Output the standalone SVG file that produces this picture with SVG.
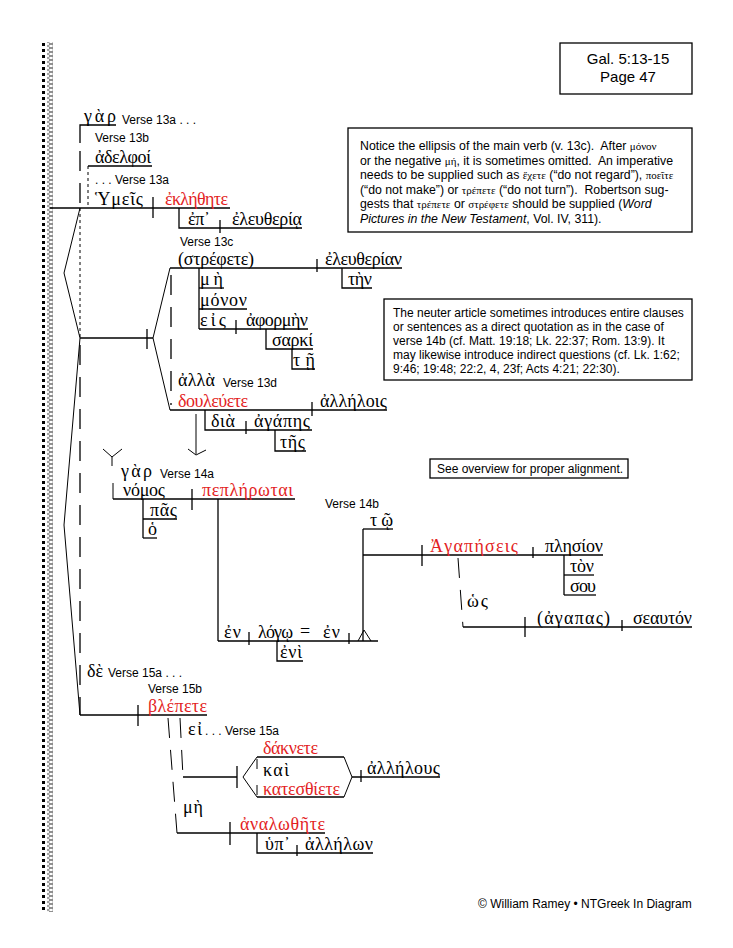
<svg xmlns="http://www.w3.org/2000/svg" width="733" height="948" viewBox="0 0 733 948">
<style>
.g{font-family:"Liberation Serif","DejaVu Serif",serif;font-size:18px;fill:#000}
.r{fill:#e31e24}
.e{font-family:"Liberation Sans",Arial,sans-serif;font-size:12px;fill:#000}
.n{font-family:"Liberation Sans",Arial,sans-serif;font-size:12.3px;fill:#000}
.n2{font-family:"Liberation Sans",Arial,sans-serif;font-size:12px;fill:#000}
.ng{font-family:"Liberation Serif","DejaVu Serif",serif;font-size:11px}
.ln{stroke:#000;stroke-width:1.3;fill:none}
.thin{stroke:#000;stroke-width:1;fill:none}
.ld{stroke-dasharray:20 12}
.sd{stroke-dasharray:3 3}
.box{fill:#fff;stroke:#000;stroke-width:1.3}
</style>
<defs>
<pattern id="chain" x="0" y="0" width="6" height="4" patternUnits="userSpaceOnUse">
<ellipse cx="3" cy="2" rx="2.4" ry="1.8" fill="none" stroke="#555" stroke-width="0.8"/>
</pattern>
</defs>
<rect width="733" height="948" fill="#fff"/>
<g id="border">
<line x1="43.5" y1="43" x2="43.5" y2="911" stroke="#000" stroke-width="3" stroke-dasharray="3 3"/>
<rect x="47" y="42" width="6" height="870" fill="url(#chain)"/>
</g>
<g id="title">
<rect class="box" x="560" y="43" width="132" height="51"/>
<text class="e" style="font-size:15px" x="628" y="63.5" text-anchor="middle">Gal. 5:13-15</text>
<text class="e" style="font-size:15px" x="628" y="82" text-anchor="middle">Page 47</text>
</g>
<g id="note1">
<rect class="box" x="348" y="128" width="344" height="104"/>
<text class="n" x="360" y="150" xml:space="preserve">Notice the ellipsis of the main verb (v. 13c).  After <tspan class="ng">μόνον</tspan></text>
<text class="n" x="360" y="164.5" xml:space="preserve">or the negative <tspan class="ng">μή</tspan>, it is sometimes omitted.  An imperative</text>
<text class="n" x="360" y="179" xml:space="preserve">needs to be supplied such as <tspan class="ng">ἔχετε</tspan> (“do not regard”), <tspan class="ng">ποεῖτε</tspan></text>
<text class="n" x="360" y="193.5" xml:space="preserve">(“do not make”) or <tspan class="ng">τρέπετε</tspan> (“do not turn”).  Robertson sug-</text>
<text class="n" x="360" y="208" xml:space="preserve">gests that <tspan class="ng">τρέπετε</tspan> or <tspan class="ng">στρέφετε</tspan> should be supplied (<tspan font-style="italic">Word</tspan></text>
<text class="n" x="360" y="222.5" xml:space="preserve"><tspan font-style="italic">Pictures in the New Testament</tspan>, Vol. IV, 311).</text>
</g>
<g id="note2">
<rect class="box" x="384" y="299" width="308" height="81"/>
<text class="n2" x="393" y="317">The neuter article sometimes introduces entire clauses</text>
<text class="n2" x="393" y="331">or sentences as a direct quotation as in the case of</text>
<text class="n2" x="393" y="345">verse 14b (cf. Matt. 19:18; Lk. 22:37; Rom. 13:9). It</text>
<text class="n2" x="393" y="359">may likewise introduce indirect questions (cf. Lk. 1:62;</text>
<text class="n2" x="393" y="373">9:46; 19:48; 22:2, 4, 23f; Acts 4:21; 22:30).</text>
</g>
<g id="note3">
<rect class="box" x="430" y="459" width="198" height="19"/>
<text class="n2" x="437" y="473">See overview for proper alignment.</text>
</g>
<g id="connectors">
<polyline class="ln" points="80,143 80,125 116,125"/>
<line class="ln ld" x1="80" y1="143" x2="80" y2="208" stroke-dashoffset="-8"/>
<line class="ln" x1="88" y1="166" x2="152" y2="166"/>
<line class="thin sd" x1="88" y1="166" x2="88" y2="208"/>
<line class="ln" x1="50" y1="208" x2="230" y2="208"/>
<line class="ln" x1="153" y1="197" x2="153" y2="218"/>
<polyline class="ln" points="179,208 179,228 302,228"/>
<line class="ln" x1="220" y1="220" x2="220" y2="233"/>
<polyline class="thin" points="80,208 64,273 80,338"/>
<line class="thin sd" x1="80" y1="208" x2="80" y2="338"/>
<line class="ln" x1="80" y1="338" x2="153" y2="338"/>
<line class="ln" x1="147" y1="329" x2="147" y2="349"/>
<polyline class="thin" points="170,268 153,338 170,410"/>
<line class="ln ld" x1="171" y1="275" x2="171" y2="405"/>
<polyline class="thin" points="80,338 64,525 80,715"/>
<line class="ln ld" x1="80" y1="345" x2="80" y2="715"/>
<line class="ln" x1="170" y1="268" x2="402" y2="268"/>
<line class="ln" x1="317" y1="259" x2="317" y2="272"/>
<polyline class="ln" points="342,268 342,288 372,288"/>
<line class="ln" x1="199" y1="268" x2="199" y2="329"/>
<line class="ln" x1="199" y1="288" x2="224" y2="288"/>
<line class="ln" x1="199" y1="309" x2="247" y2="309"/>
<line class="ln" x1="199" y1="329" x2="308" y2="329"/>
<line class="ln" x1="236" y1="320" x2="236" y2="334"/>
<polyline class="ln" points="266,329 266,349 313,349"/>
<polyline class="ln" points="292,349 292,369 315,369"/>
<line class="ln" x1="170" y1="410" x2="387" y2="410"/>
<line class="ln" x1="312" y1="402" x2="312" y2="416"/>
<polyline class="ln" points="205,410 205,430 312,430"/>
<line class="ln" x1="246" y1="421" x2="246" y2="434"/>
<polyline class="ln" points="275,430 275,451 306,451"/>
<line class="thin" x1="196" y1="414" x2="196" y2="454"/>
<polyline class="thin" points="188,449 196,455 206,450"/>
<polyline class="thin" points="103,449 112,457 122,449"/>
<line class="thin" x1="112" y1="457" x2="112" y2="466"/>
<line class="thin" x1="113" y1="483" x2="113" y2="499"/>
<line class="ln" x1="113" y1="499" x2="295" y2="499"/>
<line class="ln" x1="192" y1="489" x2="192" y2="510"/>
<line class="ln" x1="143" y1="499" x2="143" y2="538"/>
<line class="ln" x1="143" y1="519" x2="177" y2="519"/>
<line class="ln" x1="143" y1="538" x2="157" y2="538"/>
<line class="ln" x1="218" y1="499" x2="218" y2="641"/>
<line class="ln" x1="218" y1="641" x2="378" y2="641"/>
<line class="ln" x1="249" y1="632" x2="249" y2="645"/>
<line class="ln" x1="349" y1="633" x2="349" y2="644"/>
<polyline class="thin" points="358,641 364,630 371,641"/>
<polyline class="ln" points="277,641 277,661 303,661"/>
<line class="ln" x1="363" y1="529" x2="363" y2="641"/>
<line class="ln" x1="363" y1="529" x2="393" y2="529"/>
<line class="ln" x1="363" y1="555" x2="603" y2="555"/>
<line class="ln" x1="422" y1="545" x2="422" y2="566"/>
<line class="ln" x1="533" y1="547" x2="533" y2="558"/>
<line class="ln" x1="564" y1="555" x2="564" y2="595"/>
<line class="ln" x1="564" y1="575" x2="594" y2="575"/>
<line class="ln" x1="564" y1="595" x2="596" y2="595"/>
<line class="thin ld" x1="458" y1="558" x2="463" y2="627"/>
<line class="ln" x1="463" y1="627" x2="692" y2="627"/>
<line class="ln" x1="525" y1="617" x2="525" y2="637"/>
<line class="ln" x1="622" y1="620" x2="622" y2="631"/>
<line class="ln" x1="80" y1="715" x2="207" y2="715"/>
<line class="ln" x1="138" y1="705" x2="138" y2="726"/>
<line class="thin ld" x1="168" y1="718" x2="177" y2="833"/>
<line class="thin ld" x1="180" y1="718" x2="183" y2="777"/>
<line class="ln" x1="183" y1="777" x2="237" y2="777"/>
<line class="ln" x1="237" y1="766" x2="237" y2="788"/>
<polyline class="thin" points="257,757 243,777 257,797"/>
<line class="thin" x1="257" y1="759" x2="257" y2="769"/>
<line class="thin" x1="257" y1="785" x2="257" y2="795"/>
<line class="ln" x1="257" y1="757" x2="344" y2="757"/>
<line class="ln" x1="257" y1="797" x2="344" y2="797"/>
<polyline class="thin" points="344,757 352,777 344,797"/>
<line class="ln" x1="352" y1="777" x2="440" y2="777"/>
<line class="ln" x1="361" y1="770" x2="361" y2="782"/>
<line class="ln" x1="177" y1="833" x2="325" y2="833"/>
<line class="ln" x1="230" y1="822" x2="230" y2="845"/>
<polyline class="ln" points="257,833 257,853 373,853"/>
<line class="ln" x1="297" y1="845" x2="297" y2="856"/>
</g>
<g id="v13a">
<text class="g" x="84" y="122" textLength="32">γὰρ</text>
<text class="e" x="122" y="124">Verse 13a . . .</text>
<text class="e" x="95" y="142">Verse 13b</text>
<text class="g" x="95" y="163" textLength="56">ἀδελφοί</text>
<text class="e" x="95" y="184">. . . Verse 13a</text>
<text class="g" x="95" y="205" textLength="48">Ὑμεῖς</text>
<text class="g r" x="165" y="205" textLength="63">ἐκλήθητε</text>
<text class="g" x="188" y="225" textLength="22">ἐπ᾽</text>
<text class="g" x="232" y="225" textLength="70">ἐλευθερίᾳ</text>
</g>
<g id="v13c">
<text class="e" x="180" y="246">Verse 13c</text>
<text class="g" x="178" y="265" textLength="76">(στρέφετε)</text>
<text class="g" x="325" y="265" textLength="77">ἐλευθερίαν</text>
<text class="g" x="348" y="285" textLength="24">τὴν</text>
<text class="g" x="200" y="285" textLength="23">μὴ</text>
<text class="g" x="200" y="306" textLength="47">μόνον</text>
<text class="g" x="200" y="326" textLength="26">εἰς</text>
<text class="g" x="246" y="326" textLength="62">ἀφορμὴν</text>
<text class="g" x="272" y="346" textLength="41">σαρκί</text>
<text class="g" x="293" y="366" textLength="22">τῇ</text>
</g>
<g id="v13d">
<text class="g" x="178" y="386" textLength="37">ἀλλὰ</text>
<text class="e" x="223" y="387">Verse 13d</text>
<text class="g r" x="178" y="407" textLength="70">δουλεύετε</text>
<text class="g" x="320" y="407" textLength="67">ἀλλήλοις</text>
<text class="g" x="211" y="427" textLength="24">διὰ</text>
<text class="g" x="254" y="427" textLength="56">ἀγάπης</text>
<text class="g" x="280" y="448" textLength="25">τῆς</text>
</g>
<g id="v14a">
<text class="g" x="121" y="477" textLength="31">γὰρ</text>
<text class="e" x="160" y="478">Verse 14a</text>
<text class="g" x="123" y="496" textLength="42">νόμος</text>
<text class="g r" x="202" y="496" textLength="91">πεπλήρωται</text>
<text class="g" x="150" y="516" textLength="27">πᾶς</text>
<text class="g" x="148" y="535">ὁ</text>
<text class="g" x="224" y="638" textLength="17">ἐν</text>
<text class="g" x="258" y="638" textLength="35">λόγῳ</text>
<text class="g" x="300" y="637">=</text>
<text class="g" x="323" y="638" textLength="17">ἐν</text>
<text class="g" x="280" y="658" textLength="22">ἐνὶ</text>
</g>
<g id="v14b">
<text class="e" x="325" y="508">Verse 14b</text>
<text class="g" x="370" y="526" textLength="23">τῷ</text>
<text class="g r" x="430" y="552" textLength="88">Ἀγαπήσεις</text>
<text class="g" x="545" y="552" textLength="58">πλησίον</text>
<text class="g" x="570" y="572" textLength="24">τὸν</text>
<text class="g" x="570" y="592" textLength="26">σου</text>
<text class="g" x="467" y="607" textLength="21">ὡς</text>
<text class="g" x="537" y="624" textLength="73">(ἀγαπας)</text>
<text class="g" x="633" y="624" textLength="59">σεαυτόν</text>
</g>
<g id="v15">
<text class="g" x="87" y="677" textLength="16">δὲ</text>
<text class="e" x="108" y="677">Verse 15a . . .</text>
<text class="e" x="148" y="693">Verse 15b</text>
<text class="g r" x="148" y="712" textLength="59">βλέπετε</text>
<text class="g" x="188" y="735" textLength="14">εἰ</text>
<text class="e" x="205" y="735">. . . Verse 15a</text>
<text class="g r" x="263" y="754" textLength="55">δάκνετε</text>
<text class="g" x="263" y="776" textLength="26">καὶ</text>
<text class="g r" x="263" y="795" textLength="77">κατεσθίετε</text>
<text class="g" x="367" y="774" textLength="73">ἀλλήλους</text>
<text class="g" x="183" y="813" textLength="20">μὴ</text>
<text class="g r" x="240" y="830" textLength="85">ἀναλωθῆτε</text>
<text class="g" x="265" y="850" textLength="25">ὑπ᾽</text>
<text class="g" x="305" y="850" textLength="68">ἀλλήλων</text>
</g>
<g id="footer">
<text class="e" x="478" y="908">© William Ramey • NTGreek In Diagram</text>
</g>
</svg>
